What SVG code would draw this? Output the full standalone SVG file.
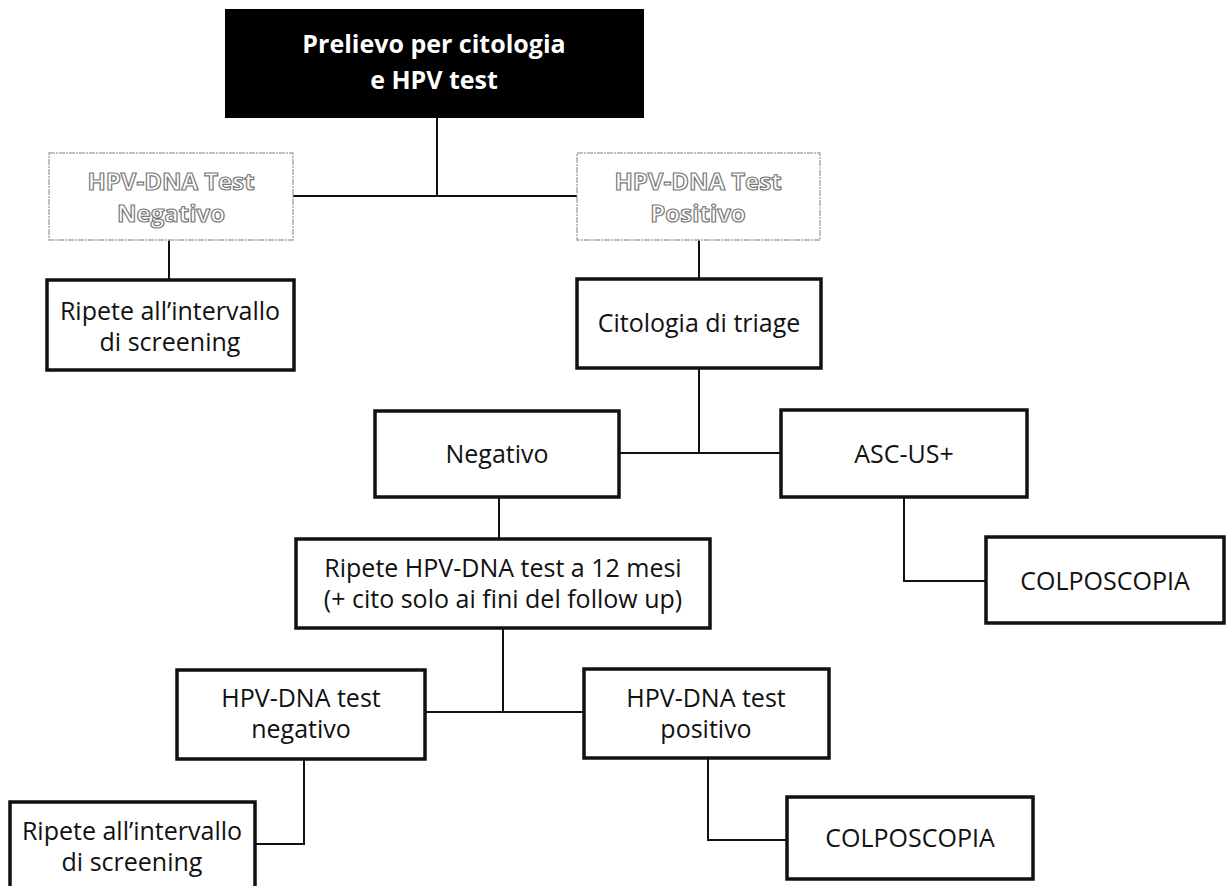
<svg xmlns="http://www.w3.org/2000/svg" width="1227" height="886" viewBox="0 0 1227 886">
<style>
.box{fill:#fff;stroke:#111;stroke-width:3.5}
.gbox{fill:#fff;stroke:#aaa;stroke-width:1.5;stroke-dasharray:6 1 2 1}
.top{fill:#000;stroke:#000;stroke-width:2}
.t{font-family:"Open Sans","Noto Sans","Liberation Sans",sans-serif;font-size:25px;fill:#111;text-anchor:middle}
.tb{font-family:"Open Sans","Noto Sans","Liberation Sans",sans-serif;font-size:25px;font-weight:bold;fill:#fff;text-anchor:middle}
.tg{font-family:"Open Sans","Noto Sans","Liberation Sans",sans-serif;font-size:24px;font-weight:bold;fill:#fff;stroke:#777;stroke-width:1.2;text-anchor:middle}
.c{fill:none;stroke:#111;stroke-width:2}
</style>
<rect width="1227" height="886" fill="#fff"/>
<g id="connectors">
<path class="c" d="M437,117 V196 M293,196 H577"/>
<path class="c" d="M169,240 V280"/>
<path class="c" d="M699,240 V279"/>
<path class="c" d="M699,368 V453 M619,453 H781"/>
<path class="c" d="M499,497 V539"/>
<path class="c" d="M904,497 V581 H986"/>
<path class="c" d="M503,628 V712 M425,712 H584"/>
<path class="c" d="M304,759 V844 H255"/>
<path class="c" d="M708,758 V840 H787"/>
</g>
<g id="n1"><rect class="top" x="226" y="10" width="417" height="107"/>
<text class="tb" x="434" y="53">Prelievo per citologia</text>
<text class="tb" x="434" y="89">e HPV test</text></g>
<g id="n2"><rect class="gbox" x="49" y="153" width="244" height="87"/>
<text class="tg" x="171" y="190">HPV-DNA Test</text>
<text class="tg" x="171" y="222">Negativo</text></g>
<g id="n3"><rect class="gbox" x="577" y="153" width="243" height="87"/>
<text class="tg" x="698" y="190">HPV-DNA Test</text>
<text class="tg" x="698" y="222">Positivo</text></g>
<g id="n4"><rect class="box" x="47" y="280" width="247" height="90"/>
<text class="t" x="170" y="320">Ripete all’intervallo</text>
<text class="t" x="170" y="351">di screening</text></g>
<g id="n5"><rect class="box" x="577" y="279" width="244" height="89"/>
<text class="t" x="699" y="332">Citologia di triage</text></g>
<g id="n6"><rect class="box" x="375" y="411" width="244" height="86"/>
<text class="t" x="497" y="463">Negativo</text></g>
<g id="n7"><rect class="box" x="781" y="410" width="246" height="87"/>
<text class="t" x="904" y="463">ASC-US+</text></g>
<g id="n8"><rect class="box" x="296" y="539" width="414" height="89"/>
<text class="t" x="503" y="577">Ripete HPV-DNA test a 12 mesi</text>
<text class="t" x="503" y="608">(+ cito solo ai fini del follow up)</text></g>
<g id="n9"><rect class="box" x="986" y="537" width="238" height="86"/>
<text class="t" x="1105" y="590">COLPOSCOPIA</text></g>
<g id="n10"><rect class="box" x="177" y="670" width="248" height="89"/>
<text class="t" x="301" y="707">HPV-DNA test</text>
<text class="t" x="301" y="738">negativo</text></g>
<g id="n11"><rect class="box" x="584" y="669" width="245" height="89"/>
<text class="t" x="706" y="707">HPV-DNA test</text>
<text class="t" x="706" y="738">positivo</text></g>
<g id="n12"><rect class="box" x="10" y="802" width="245" height="95"/>
<text class="t" x="132" y="840">Ripete all’intervallo</text>
<text class="t" x="132" y="871">di screening</text></g>
<g id="n13"><rect class="box" x="787" y="797" width="246" height="82"/>
<text class="t" x="910" y="847">COLPOSCOPIA</text></g>
</svg>
